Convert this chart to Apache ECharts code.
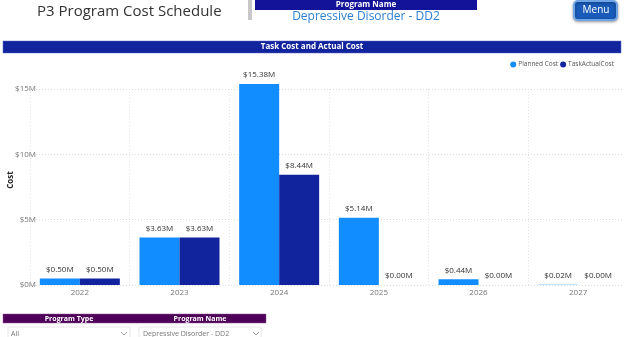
<!DOCTYPE html>
<html>
<head>
<meta charset="utf-8">
<script src="https://cdn.jsdelivr.net/npm/echarts@6/dist/echarts.min.js"></script>
<style>
  html, body { margin: 0; padding: 0; background: #ffffff; }
  #chart { width: 624px; height: 337px; }
</style>
</head>
<body>
<div id="chart"></div>
<script>
// Years on the category axis
const years = ['2022', '2023', '2024', '2025', '2026', '2027'];
// Cost per year, in millions of dollars
const plannedCost = [0.50, 3.63, 15.38, 5.14, 0.44, 0.02];
const taskActualCost = [0.50, 3.63, 8.44, 0.00, 0.00, 0.00];
// Y axis ticks (millions)
const costTicks = [0, 5, 10, 15];

const FONT = "'Segoe UI', 'Open Sans', 'Noto Sans', sans-serif";
const chart = echarts.init(document.getElementById('chart'), null, { renderer: 'canvas' });

const money = v => '$' + Number(v).toFixed(2) + 'M';

const labelStyle = {
  show: true,
  position: 'top',
  distance: 5,
  fontSize: 8,
  color: '#333333',
  fontFamily: FONT,
  formatter: p => money(p.value)
};

chart.setOption({
  animation: false,
  backgroundColor: '#ffffff',
  textStyle: { fontFamily: FONT },
  grid: { left: 30, top: 89, width: 598, height: 196, containLabel: false, outerBoundsMode: 'none' },
  legend: {
    right: 5, top: 56,
    itemWidth: 6, itemHeight: 6, itemGap: 2,
    icon: 'circle',
    textStyle: { fontSize: 6.5, color: '#555555', fontFamily: FONT, padding: [0, 0, 0, -3] },
    data: ['Planned Cost', 'TaskActualCost']
  },
  xAxis: {
    type: 'category',
    data: years,
    axisLine: { show: false },
    axisTick: { show: false },
    axisLabel: { fontSize: 8, color: '#777777', margin: 4, fontFamily: FONT },
    splitLine: { show: true, interval: 0, lineStyle: { color: '#e4e4e4', type: [1, 2], width: 1 } }
  },
  yAxis: {
    type: 'value',
    min: costTicks[0],
    max: costTicks[costTicks.length - 1],
    interval: costTicks[1] - costTicks[0],
    axisLine: { show: false },
    axisTick: { show: false },
    axisLabel: { fontSize: 8, color: '#777777', margin: -6, fontFamily: FONT, formatter: v => '$' + v + 'M' },
    splitLine: { lineStyle: { color: '#dcdcdc', type: [1, 2], width: 1 } }
  },
  series: [
    {
      name: 'Planned Cost',
      type: 'bar',
      data: plannedCost,
      barWidth: 40,
      barGap: '0%',
      clip: false,
      itemStyle: { color: '#118DFF' },
      label: labelStyle
    },
    {
      name: 'TaskActualCost',
      type: 'bar',
      data: taskActualCost,
      barWidth: 40,
      clip: false,
      itemStyle: { color: '#12239E' },
      label: labelStyle
    }
  ],
  graphic: [
    // y axis title
    { type: 'text', x: 11, y: 180, rotation: Math.PI / 2, style: { text: 'Cost', fontSize: 8, fontWeight: 'bold', fill: '#252423', align: 'center', verticalAlign: 'middle', fontFamily: FONT } },
    // page title
    { type: 'text', left: 37, top: 4, style: { text: 'P3 Program Cost Schedule', fontSize: 15, fill: '#333333', fontFamily: FONT } },
    // divider
    { type: 'rect', shape: { x: 248, y: 0, width: 4, height: 20 }, style: { fill: '#c8c8c8' } },
    // program name slicer header
    { type: 'rect', shape: { x: 255, y: 0, width: 222, height: 10 }, style: { fill: '#13139a' } },
    { type: 'text', x: 366, y: 5, style: { text: 'Program Name', fontSize: 8, fontWeight: 'bold', fill: '#ffffff', align: 'center', verticalAlign: 'middle', fontFamily: FONT } },
    { type: 'text', x: 366, y: 17, style: { text: 'Depressive Disorder - DD2', fontSize: 12, fill: '#2a7fd4', align: 'center', verticalAlign: 'middle', fontFamily: FONT } },
    // menu button
    { type: 'rect', shape: { x: 574, y: 1, width: 43, height: 19, r: 4 }, style: { fill: '#1a5ab8', stroke: '#6fa5e6', lineWidth: 2, shadowBlur: 3, shadowColor: 'rgba(0,0,0,0.35)', shadowOffsetY: 1 } },
    { type: 'text', x: 596, y: 10.5, style: { text: 'Menu', fontSize: 10, fill: '#ffffff', align: 'center', verticalAlign: 'middle', fontFamily: FONT } },
    // visual title bar
    { type: 'rect', shape: { x: 3, y: 41, width: 618, height: 12 }, style: { fill: '#12239E', stroke: '#5b67c4', lineWidth: 0.5 } },
    { type: 'text', x: 312, y: 47, style: { text: 'Task Cost and Actual Cost', fontSize: 8, fontWeight: 'bold', fill: '#ffffff', align: 'center', verticalAlign: 'middle', fontFamily: FONT } },
    // bottom slicers
    { type: 'rect', shape: { x: 3, y: 314, width: 263, height: 9 }, style: { fill: '#4f0058', stroke: '#8a5a92', lineWidth: 0.5 } },
    { type: 'text', x: 69, y: 318.5, style: { text: 'Program Type', fontSize: 7, fontWeight: 'bold', fill: '#ffffff', align: 'center', verticalAlign: 'middle', fontFamily: FONT } },
    { type: 'text', x: 200, y: 318.5, style: { text: 'Program Name', fontSize: 7, fontWeight: 'bold', fill: '#ffffff', align: 'center', verticalAlign: 'middle', fontFamily: FONT } },
    { type: 'rect', shape: { x: 8, y: 327, width: 122, height: 14 }, style: { fill: '#ffffff', stroke: '#e6e6e6', lineWidth: 1 } },
    { type: 'text', x: 11, y: 334, style: { text: 'All', fontSize: 7, fill: '#777777', verticalAlign: 'middle', fontFamily: FONT } },
    { type: 'polyline', shape: { points: [[121, 332], [124, 335], [127, 332]] }, style: { stroke: '#888888', lineWidth: 0.8, fill: null } },
    { type: 'rect', shape: { x: 139, y: 327, width: 122, height: 14 }, style: { fill: '#ffffff', stroke: '#e6e6e6', lineWidth: 1 } },
    { type: 'text', x: 143, y: 334, style: { text: 'Depressive Disorder - DD2', fontSize: 7, fill: '#777777', verticalAlign: 'middle', fontFamily: FONT } },
    { type: 'polyline', shape: { points: [[253, 332], [256, 335], [259, 332]] }, style: { stroke: '#888888', lineWidth: 0.8, fill: null } }
  ]
});
</script>
</body>
</html>
